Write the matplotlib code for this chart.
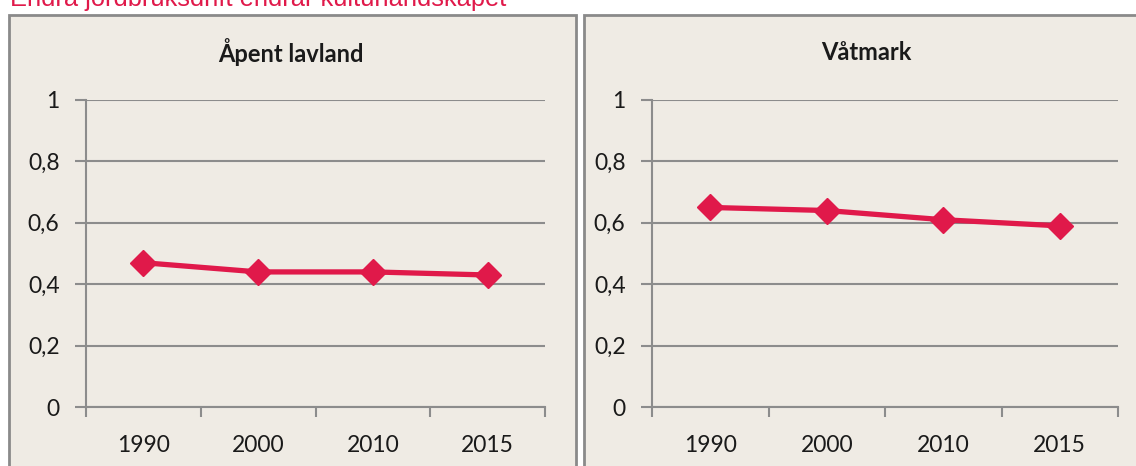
import matplotlib.pyplot as plt
from matplotlib.patches import Rectangle
from matplotlib.ticker import FixedLocator, FuncFormatter

years = ["1990", "2000", "2010", "2015"]
lavland = [0.47, 0.44, 0.44, 0.43]
vatmark = [0.65, 0.64, 0.61, 0.59]
yticks = [0, 0.2, 0.4, 0.6, 0.8, 1.0]

W, H = 1136, 466
RED = "#E0194A"
GRID = "#8C8C8C"
PANEL = "#EFEBE4"
FONT = ["Lato", "DejaVu Sans"]

fig = plt.figure(figsize=(W / 100, H / 100), dpi=100)
fig.patch.set_facecolor("white")


def px_rect(x0, y0, x1, y1):
    # pixel box (top-left origin) -> figure fraction [left, bottom, width, height]
    return [x0 / W, (H - y1) / H, (x1 - x0) / W, (y1 - y0) / H]


# background panels with grey frames
for x0, x1 in [(9, 576), (584, 1150)]:
    l, b, w, h = px_rect(x0, 15, x1, 480)
    fig.patches.append(Rectangle((l, b), w, h, transform=fig.transFigure,
                                 facecolor=PANEL, edgecolor="#8A8A8A", lw=2, zorder=-5))

# heading, cut by the upper edge
fig.text(10 / W, 1 - 6 / H, "Endra jordbruksdrift endrar kulturlandskapet",
         color=RED, fontsize=18.3, family=["Liberation Sans", "DejaVu Sans"],
         ha="left", va="baseline")


def draw(box, values, title, title_x):
    ax = fig.add_axes(px_rect(*box))
    ax.set_zorder(2)
    ax.patch.set_alpha(0)
    ax.plot(range(len(values)), values, color=RED, lw=3.8, marker="D",
            markersize=13, zorder=3, clip_on=False)
    ax.set_xlim(-0.5, len(values) - 0.5)
    ax.set_ylim(0, 1)
    ax.yaxis.set_major_locator(FixedLocator(yticks))
    ax.yaxis.set_major_formatter(FuncFormatter(lambda v, p: f"{v:g}".replace(".", ",")))
    ax.grid(axis="y", color=GRID, lw=1.5)
    ax.set_axisbelow(True)

    ax.xaxis.set_major_locator(FixedLocator([i - 0.5 for i in range(len(values) + 1)]))
    ax.xaxis.set_minor_locator(FixedLocator(range(len(values))))
    ax.set_xticklabels([], minor=False)
    ax.set_xticklabels(years, minor=True)
    ax.tick_params(axis="x", which="major", direction="out", length=7, width=1.5, color=GRID)
    ax.tick_params(axis="x", which="minor", length=0, pad=20)
    ax.tick_params(axis="y", direction="out", length=8, width=1.5, color=GRID, pad=11)
    for lab in ax.get_xticklabels(minor=True) + ax.get_yticklabels():
        lab.set_family(FONT)
        lab.set_fontsize(16.5)
        lab.set_color("#1A1A1A")

    for s in ["top", "right"]:
        ax.spines[s].set_visible(False)
    for s in ["left", "bottom"]:
        ax.spines[s].set_color(GRID)
        ax.spines[s].set_linewidth(1.5)

    fig.text(title_x / W, 1 - 52 / H, title, ha="center", va="center",
             fontsize=17, fontweight="bold", family=FONT, color="#1A1A1A")


draw((86, 100, 545, 407), lavland, "Åpent lavland", 291)
draw((652, 100, 1118, 407), vatmark, "Våtmark", 866)

fig.savefig("out.png", dpi=100, facecolor=fig.get_facecolor())
